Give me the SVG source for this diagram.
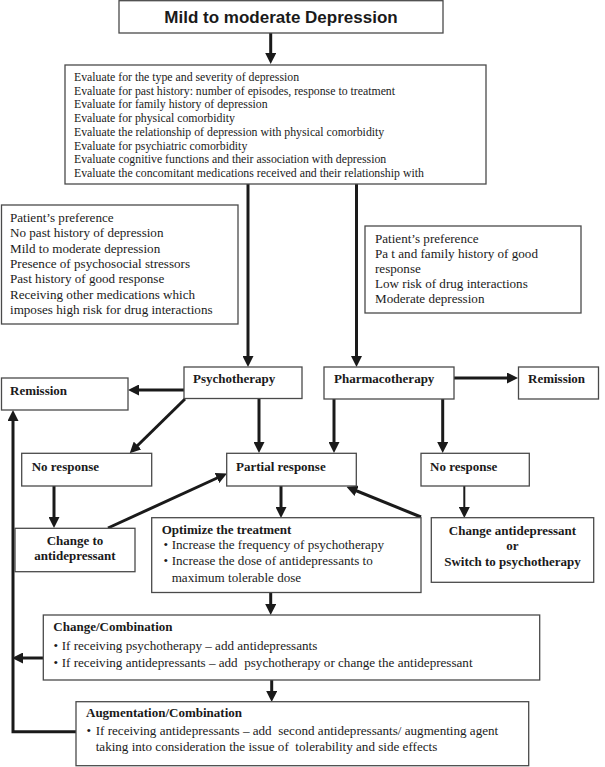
<svg xmlns="http://www.w3.org/2000/svg" width="605" height="767" viewBox="0 0 605 767">
<style>
.box{fill:#fff;stroke:#4a4a4a;stroke-width:1.3}
.t{font-family:"Liberation Serif","Times New Roman",serif;font-size:13.1px;fill:#1a1a1a;white-space:pre}
.e{font-family:"Liberation Serif","Times New Roman",serif;font-size:11.8px;fill:#1a1a1a}
.b{font-family:"Liberation Serif","Times New Roman",serif;font-size:13px;font-weight:bold;fill:#1a1a1a}
.c{text-anchor:middle}
.title{font-family:"Liberation Sans",Arial,sans-serif;font-size:17px;font-weight:bold;fill:#1a1a1a;text-anchor:middle}
.ln{fill:none;stroke:#1a1a1a;stroke-width:3;marker-end:url(#ah)}
.thin{stroke-width:2}
</style>
<defs>
<marker id="ah" markerUnits="userSpaceOnUse" markerWidth="11" markerHeight="11" refX="5" refY="5.5" orient="auto">
<path d="M0,0 L11,5.5 L0,11 z" fill="#1a1a1a"/>
</marker>
</defs>
<rect width="605" height="767" fill="#fff"/>

<g id="connectors">
<path class="ln" d="M270.7,33 V58"/>
<path class="ln" d="M248,184 V361"/>
<path class="ln" d="M356.5,184 V361"/>
<path class="ln" d="M184,390 H134"/>
<path class="ln" d="M454,378 H512"/>
<path class="ln" d="M185,399 L134,449"/>
<path class="ln" d="M259,398 V447"/>
<path class="ln" d="M334,399 V447"/>
<path class="ln" d="M442.7,399 V447"/>
<path class="ln" d="M54,486 V522"/>
<path class="ln" d="M108,528 L221.5,476"/>
<path class="ln" d="M281,486 V512"/>
<path class="ln" d="M421,517 L352,489"/>
<path class="ln thin" d="M464.3,486 V512"/>
<path class="ln" d="M270.7,592.5 V609"/>
<path class="ln" d="M271.7,680 V696"/>
<path class="ln" d="M43,658 H18"/>
<path class="ln" d="M76,731.7 H13 V416"/>
</g>

<g id="title">
<rect class="box" x="119" y="0.7" width="324" height="32.3"/>
<text class="title" x="281" y="23.3">Mild to moderate Depression</text>
</g>

<g id="evaluate">
<rect class="box" x="65" y="65" width="421" height="119"/>
<text class="e" x="74" y="81">Evaluate for the type and severity of depression</text>
<text class="e" x="74" y="94.7">Evaluate for past history: number of episodes, response to treatment</text>
<text class="e" x="74" y="108.4">Evaluate for family history of depression</text>
<text class="e" x="74" y="122.1">Evaluate for physical comorbidity</text>
<text class="e" x="74" y="135.8">Evaluate the relationship of depression with physical comorbidity</text>
<text class="e" x="74" y="149.5">Evaluate for psychiatric comorbidity</text>
<text class="e" x="74" y="163.2">Evaluate cognitive functions and their association with depression</text>
<text class="e" x="74" y="176.9">Evaluate the concomitant medications received and their relationship with</text>
</g>

<g id="psy-criteria">
<rect class="box" x="1.5" y="205" width="236.5" height="119"/>
<text class="t" x="10" y="221.7">Patient’s preference</text>
<text class="t" x="10" y="237.1">No past history of depression</text>
<text class="t" x="10" y="252.5">Mild to moderate depression</text>
<text class="t" x="10" y="267.9">Presence of psychosocial stressors</text>
<text class="t" x="10" y="283.3">Past history of good response</text>
<text class="t" x="10" y="298.7">Receiving other medications which</text>
<text class="t" x="10" y="314.1">imposes high risk for drug interactions</text>
</g>

<g id="pharm-criteria">
<rect class="box" x="365" y="226" width="216" height="87"/>
<text class="t" x="375" y="243.3">Patient’s preference</text>
<text class="t" x="375" y="258.3">Pa t and family history of good</text>
<text class="t" x="375" y="273.3">response</text>
<text class="t" x="375" y="288.3">Low risk of drug interactions</text>
<text class="t" x="375" y="303.3">Moderate depression</text>
</g>

<g id="psychotherapy">
<rect class="box" x="184" y="367" width="118" height="31.5"/>
<text class="b" x="193" y="383.3">Psychotherapy</text>
</g>

<g id="pharmacotherapy">
<rect class="box" x="324" y="367" width="130" height="32"/>
<text class="b" x="334" y="383.3">Pharmacotherapy</text>
</g>

<g id="remission-left">
<rect class="box" x="1.5" y="378" width="126.5" height="32"/>
<text class="b" x="10" y="395">Remission</text>
</g>

<g id="remission-right">
<rect class="box" x="518.5" y="367" width="80" height="32"/>
<text class="b" x="528" y="383.3">Remission</text>
</g>

<g id="no-response-left">
<rect class="box" x="21.7" y="453.3" width="130" height="32.7"/>
<text class="b" x="31.7" y="470.7">No response</text>
</g>

<g id="partial-response">
<rect class="box" x="226.7" y="453.3" width="129.6" height="32.7"/>
<text class="b" x="236" y="470.7">Partial response</text>
</g>

<g id="no-response-right">
<rect class="box" x="421" y="453.3" width="108.3" height="32.7"/>
<text class="b" x="430" y="470.7">No response</text>
</g>

<g id="change-to-antidepressant">
<rect class="box" x="15" y="528.3" width="120" height="43.4"/>
<text class="b c" x="75" y="545">Change to</text>
<text class="b c" x="75" y="560">antidepressant</text>
</g>

<g id="optimize">
<rect class="box" x="151.7" y="517.7" width="269.3" height="74.8"/>
<text class="b" x="161.7" y="534">Optimize the treatment</text>
<text class="t" x="163.5" y="549.3" font-size="10">•</text>
<text class="t" x="171.7" y="549.3">Increase the frequency of psychotherapy</text>
<text class="t" x="163.5" y="565" font-size="10">•</text>
<text class="t" x="171.7" y="565">Increase the dose of antidepressants to</text>
<text class="t" x="171.7" y="581.7">maximum tolerable dose</text>
</g>

<g id="change-antidepressant">
<rect class="box" x="431.3" y="517.7" width="162.4" height="64.6"/>
<text class="b c" x="512.5" y="535">Change antidepressant</text>
<text class="b c" x="512.5" y="550">or</text>
<text class="b c" x="512.5" y="565.7">Switch to psychotherapy</text>
</g>

<g id="change-combination">
<rect class="box" x="43.3" y="615" width="496.4" height="65"/>
<text class="b" x="53.3" y="631">Change/Combination</text>
<text class="t" x="53.5" y="650" font-size="10">•</text>
<text class="t" x="61.7" y="650">If receiving psychotherapy – add antidepressants</text>
<text class="t" x="53.5" y="666.7" font-size="10">•</text>
<text class="t" x="61.7" y="666.7">If receiving antidepressants – add  psychotherapy or change the antidepressant</text>
</g>

<g id="augmentation">
<rect class="box" x="76" y="701.7" width="452.7" height="64"/>
<text class="b" x="86" y="716.7">Augmentation/Combination</text>
<text class="t" x="86.5" y="735" font-size="10">•</text>
<text class="t" x="95.7" y="735">If receiving antidepressants – add  second antidepressants/ augmenting agent</text>
<text class="t" x="95.7" y="751">taking into consideration the issue of  tolerability and side effects</text>
</g>
</svg>
